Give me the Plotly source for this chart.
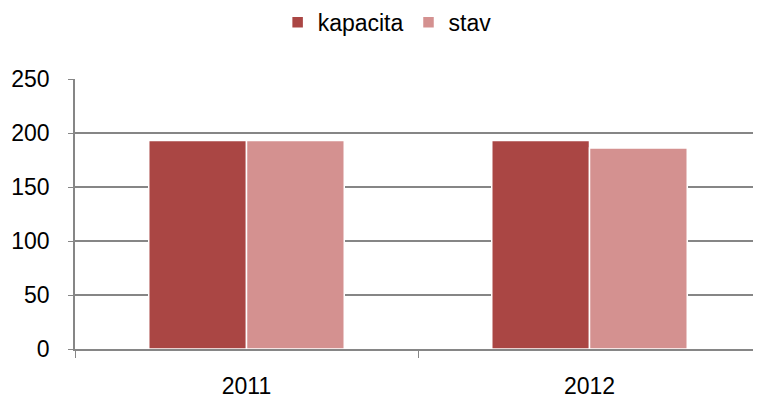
import plotly.graph_objects as go

years = ["2011", "2012"]
kapacita = [193, 193]
stav = [193, 186]
y_ticks = [0, 50, 100, 150, 200, 250]

font = dict(family="Liberation Sans, Arial, sans-serif", size=23, color="#000000")

fig = go.Figure()
fig.add_trace(go.Bar(name="kapacita", x=years, y=kapacita,
                     marker=dict(color="#AA4644", line=dict(color="#FFFFFF", width=1.5))))
fig.add_trace(go.Bar(name="stav", x=years, y=stav,
                     marker=dict(color="#D49190", line=dict(color="#FFFFFF", width=1.5))))

fig.update_layout(
    width=761, height=403,
    margin=dict(l=67, r=8, t=71, b=62, autoexpand=False),
    paper_bgcolor="white", plot_bgcolor="white",
    font=font,
    barmode="group", bargap=0.43, bargroupgap=0.0,
    showlegend=True,
    legend=dict(orientation="h", x=0.455, xanchor="center", y=1.21, yref="paper",
                yanchor="middle", font=font, itemwidth=30, traceorder="normal"),
    xaxis=dict(showline=True, linecolor="#868686", linewidth=1.5, automargin=False,
               ticks="outside", tickson="boundaries", ticklen=7, tickcolor="#868686",
               showgrid=False, ticklabelstandoff=16),
    yaxis=dict(range=[0, 250], tickvals=y_ticks, showline=True, linecolor="#868686",
               linewidth=1.5, ticks="outside", ticklen=5, tickcolor="#868686", automargin=False,
               showgrid=True, gridcolor="#868686", gridwidth=1.5, zeroline=False,
               ticklabelstandoff=14),
)
fig.write_html("out.html")
